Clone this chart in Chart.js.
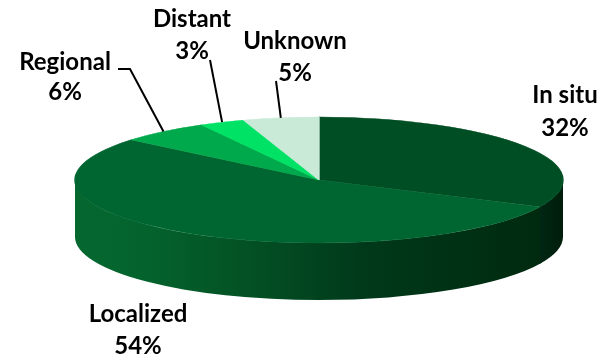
<!DOCTYPE html>
<html>
<head>
<meta charset="utf-8">
<script src="https://cdn.jsdelivr.net/npm/chart.js@4"></script>
<style>
    html, body { margin: 0; padding: 0; background: #fff; }
    canvas { display: block; filter: blur(0.4px); }
</style>
</head>
<body>
<canvas id="stageChart" width="598" height="357"></canvas>
<script>
const categories = ['In situ', 'Localized', 'Regional', 'Distant', 'Unknown'];
const percentages = [32, 54, 6, 3, 5];
const faceColors = ['#004f24', '#006631', '#00a94b', '#00e266', '#c9ead7'];

// Flattened pie geometry
const pieX = 319, pieY = 180, pieRx = 244, pieRy = 63, pieDepth = 57;

// Label placement: [text centre x, first line y, second line y]
const labelSpots = [[565, 95, 128], [138, 314, 346], [65, 62, 92], [192, 19, 51], [295, 41, 73]];

// Leader lines start here and end on the rim at the middle of the slice
const leaderStarts = [null, null, [[118, 69], [130, 69]], [[210, 60]], [[276, 81]]];

// Side wall shading, left to right across the pie
const wallStops = {
    0: [[0, '#012613'], [1, '#001d0b']],
    1: [[0, '#05682f'], [0.15, '#04632d'], [0.38, '#035024'], [0.62, '#00391a'], [1, '#002a10']]
};
const wallSpans = { 0: [541, 563], 1: [75, 541] };

const fakePie3d = {
    id: 'fakePie3d',
    beforeDatasetsDraw(chart) {
        const ctx = chart.ctx;
        const arcs = chart.getDatasetMeta(0).data;

        // Side wall is only visible on the front half of the ellipse.
        // Back to front with a small overlap so no light seam shows between slices
        for (let i = arcs.length - 1; i >= 0; i--) {
            const arc = arcs[i];
            const a0 = Math.max(arc.startAngle - 0.02, 0);
            const a1 = Math.min(arc.endAngle, Math.PI);
            if (a1 <= a0 || !wallStops[i]) continue;
            const span = wallSpans[i];
            const grad = ctx.createLinearGradient(span[0], 0, span[1], 0);
            wallStops[i].forEach(s => grad.addColorStop(s[0], s[1]));
            ctx.beginPath();
            ctx.ellipse(pieX, pieY, pieRx, pieRy, 0, a0, a1);
            ctx.ellipse(pieX, pieY + pieDepth, pieRx, pieRy, 0, a1, a0, true);
            ctx.closePath();
            ctx.fillStyle = grad;
            ctx.fill();
        }

        // Squash the library's round pie into the ellipse
        const first = arcs[0];
        ctx.save();
        ctx.translate(pieX, pieY);
        ctx.scale(pieRx / first.outerRadius, pieRy / first.outerRadius);
        ctx.translate(-first.x, -first.y);
    },
    afterDatasetsDraw(chart) {
        const ctx = chart.ctx;
        ctx.restore();

        const arcs = chart.getDatasetMeta(0).data;
        ctx.strokeStyle = '#000';
        ctx.lineWidth = 2;
        arcs.forEach(function(arc, i) {
            if (!leaderStarts[i]) return;
            const mid = (arc.startAngle + arc.endAngle) / 2;
            ctx.beginPath();
            leaderStarts[i].forEach((p, k) => k ? ctx.lineTo(p[0], p[1]) : ctx.moveTo(p[0], p[1]));
            ctx.lineTo(pieX + pieRx * Math.cos(mid), pieY + pieRy * Math.sin(mid));
            ctx.stroke();
        });

        ctx.fillStyle = '#000';
        ctx.font = 'bold 24px Lato';
        ctx.textAlign = 'center';
        ctx.textBaseline = 'middle';
        categories.forEach(function(name, i) {
            const spot = labelSpots[i];
            ctx.fillText(name, spot[0], spot[1]);
            ctx.fillText(percentages[i] + '%', spot[0], spot[2]);
        });
    }
};

new Chart(document.getElementById('stageChart').getContext('2d'), {
    type: 'pie',
    data: {
        labels: categories,
        datasets: [{
            data: percentages,
            backgroundColor: faceColors,
            borderColor: faceColors,
            borderWidth: 1
        }]
    },
    options: {
        responsive: false,
        animation: false,
        plugins: {
            legend: { display: false },
            tooltip: { enabled: false }
        }
    },
    plugins: [fakePie3d]
});
</script>
</body>
</html>
